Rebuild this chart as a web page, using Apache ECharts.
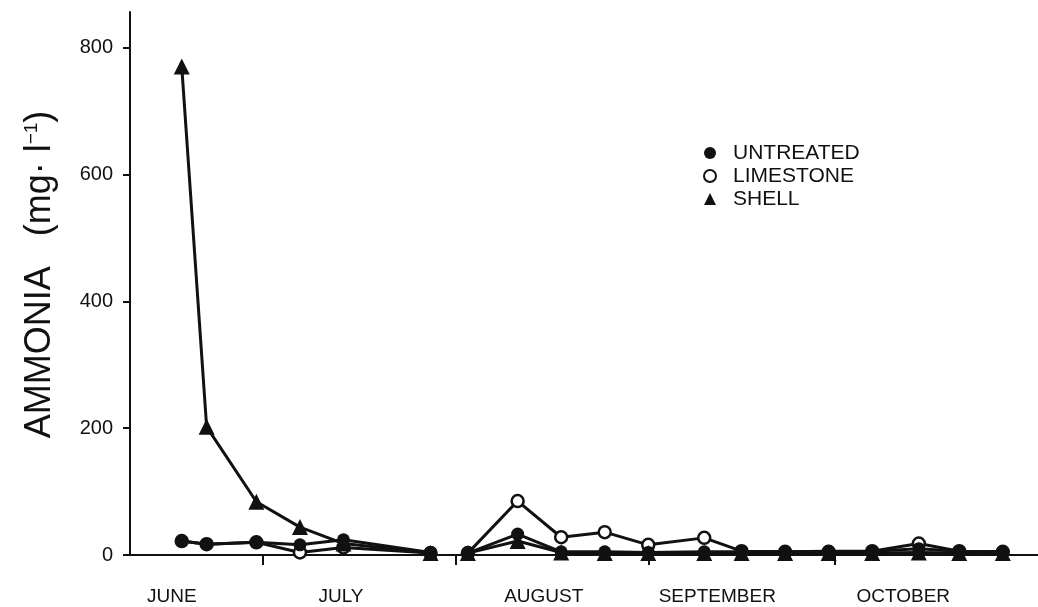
<!DOCTYPE html>
<html>
<head>
<meta charset="utf-8">
<script src="https://cdn.jsdelivr.net/npm/echarts@6/dist/echarts.min.js"></script>
<style>
  html, body { margin: 0; padding: 0; background: #fff; }
  #chart { width: 1038px; height: 607px; }
</style>
</head>
<body>
<div id="chart"></div>
<script>
// Sampling days, counted from 1 June; null marks the break between the two runs
const sampleDays = [17, 21, 29, 36, 43, 57, 60, 63, 71, 78, 85, 92, 101, 107, 114, 121, 128, 135.5, 142, 149];

// Ammonia, mg per litre
const untreated = [22, 17, 20, 16, 24, 4, null, 3, 33, 5, 5, 4, 5, 5, 5, 6, 6, 10, 6, 5];
const limestone = [22, 17, 20, 4, 12, 3, null, 3, 85, 28, 36, 16, 27, 6, 5, 5, 6, 18, 6, 5];
const shell     = [770, 202, 84, 44, 18, 3, null, 3, 22, 4, 3, 3, 3, 3, 3, 3, 3, 4, 3, 3];

// Month boundaries (1 Jul, 1 Aug, 1 Sep, 1 Oct) and month names
const monthStarts = [30, 61, 92, 122];
const monthNames = ['JUNE', 'JULY', 'AUGUST', 'SEPTEMBER', 'OCTOBER'];
const yTicks = [0, 200, 400, 600, 800];

// where each month name sits along the day axis
const monthLabelAt = [15.4, 42.6, 75.2, 103.1, 133];

const ink = '#111';
const font = '"Liberation Sans", Arial, sans-serif';

function pairs(values) {
  return sampleDays.map((d, i) => [d, values[i] === null ? '-' : values[i]]);
}

const chart = echarts.init(document.getElementById('chart'), null, { renderer: 'canvas' });

chart.setOption({
  backgroundColor: '#fff',
  animation: false,
  grid: { left: 130, right: 0, top: 12, bottom: 52 },
  legend: {
    orient: 'vertical',
    left: 698,
    top: 137,
    itemWidth: 12,
    itemHeight: 12,
    itemGap: 1,
    selectedMode: false,
    textStyle: { color: ink, fontSize: 21, fontFamily: font, lineHeight: 22, padding: [0, 0, 0, 12] },
    data: [
      { name: 'UNTREATED', icon: 'circle' },
      { name: 'LIMESTONE', icon: 'circle' },
      { name: 'SHELL', icon: 'triangle' }
    ]
  },
  xAxis: {
    type: 'value',
    min: 8.68,
    max: 154.66,
    axisLine: { lineStyle: { color: ink, width: 2 } },
    axisTick: {
      customValues: monthStarts,
      length: 10,
      lineStyle: { color: ink, width: 2 }
    },
    axisLabel: {
      customValues: monthLabelAt,
      formatter: v => monthNames[monthLabelAt.indexOf(v)] || '',
      color: ink,
      fontSize: 19,
      fontFamily: font,
      margin: 32
    },
    splitLine: { show: false }
  },
  yAxis: {
    type: 'value',
    min: 0,
    max: 856,
    name: '{a|AMMONIA   (mg· l}{s|−1}{a|)}',
    nameLocation: 'middle',
    nameGap: 72,
    nameRotate: 90,
    nameTextStyle: {
      padding: [0, 0, 0, 18],
      rich: {
        a: { fontSize: 36, fontFamily: font, color: ink },
        s: { fontSize: 19, fontFamily: font, color: ink, padding: [0, 0, 16, 0] }
      }
    },
    axisLine: { show: true, lineStyle: { color: ink, width: 2 } },
    axisTick: {
      show: true,
      customValues: yTicks,
      length: 7,
      lineStyle: { color: ink, width: 2 }
    },
    axisLabel: {
      customValues: yTicks,
      color: ink,
      fontSize: 20,
      fontFamily: font,
      margin: 17
    },
    splitLine: { show: false }
  },
  series: [
    {
      name: 'LIMESTONE',
      type: 'line',
      data: pairs(limestone),
      symbol: 'circle',
      symbolSize: 12,
      connectNulls: false,
      lineStyle: { color: ink, width: 3 },
      itemStyle: { color: '#fff', borderColor: ink, borderWidth: 2.5 }
    },
    {
      name: 'SHELL',
      type: 'line',
      data: pairs(shell),
      symbol: 'triangle',
      symbolSize: 16,
      connectNulls: false,
      lineStyle: { color: ink, width: 3 },
      itemStyle: { color: ink }
    },
    {
      name: 'UNTREATED',
      type: 'line',
      data: pairs(untreated),
      symbol: 'circle',
      symbolSize: 13,
      connectNulls: false,
      lineStyle: { color: ink, width: 3 },
      itemStyle: { color: ink }
    }
  ]
});
</script>
</body>
</html>
